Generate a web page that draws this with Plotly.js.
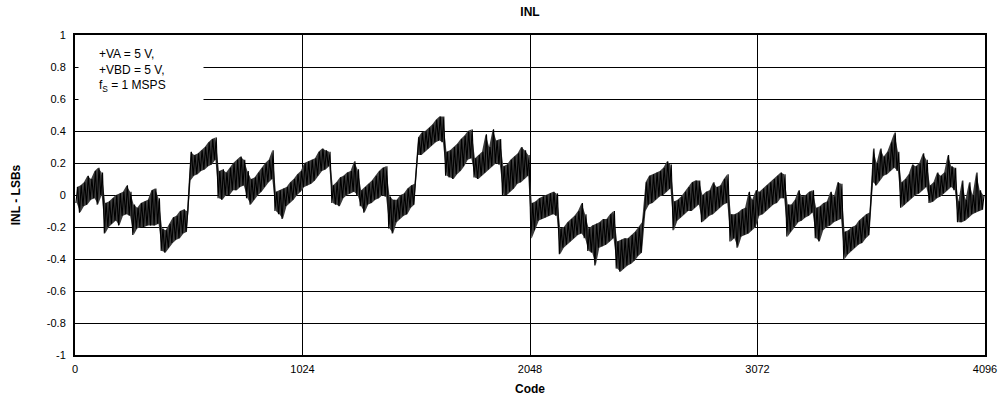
<!DOCTYPE html>
<html><head><meta charset="utf-8">
<script src="https://cdn.plot.ly/plotly-3.0.1.min.js"></script>
<style>html,body{margin:0;padding:0;background:#fff}#chart{width:1000px;height:403px}</style>
</head><body><div id="chart"></div>
<script>
const binWidth = 16;
const inlLo = [
 -0.05,-0.11,-0.07,-0.06,-0.03,-0.02,-0.06,0.00,
 -0.24,-0.20,-0.18,-0.16,-0.19,-0.13,-0.12,-0.13,
 -0.25,-0.21,-0.20,-0.20,-0.19,-0.19,-0.19,-0.18,
 -0.35,-0.36,-0.33,-0.30,-0.28,-0.27,-0.24,-0.23,
 0.09,0.12,0.13,0.15,0.16,0.18,0.19,0.22,
 -0.02,-0.03,0.00,0.00,0.03,0.03,0.05,0.06,
 -0.02,-0.06,-0.03,0.00,0.02,0.05,0.08,0.10,
 -0.10,-0.12,-0.15,-0.07,-0.05,-0.03,0.00,0.02,
 0.05,0.06,0.07,0.09,0.12,0.15,0.16,0.18,
 -0.05,-0.06,-0.07,-0.02,0.00,0.01,0.02,0.00,
 -0.07,-0.11,-0.06,-0.05,-0.03,-0.02,0.00,-0.01,
 -0.21,-0.24,-0.17,-0.15,-0.13,-0.12,-0.08,-0.06,
 0.25,0.25,0.27,0.29,0.31,0.33,0.34,0.33,
 0.12,0.11,0.10,0.13,0.15,0.18,0.22,0.23,
 0.11,0.10,0.12,0.14,0.16,0.18,0.20,0.19,
 0.00,0.00,0.02,0.04,0.07,0.08,0.10,0.12,
 -0.27,-0.22,-0.16,-0.15,-0.14,-0.13,-0.12,-0.13,
 -0.37,-0.33,-0.31,-0.29,-0.27,-0.25,-0.24,-0.27,
 -0.35,-0.36,-0.44,-0.33,-0.32,-0.31,-0.29,-0.27,
 -0.46,-0.48,-0.46,-0.44,-0.43,-0.41,-0.38,-0.36,
 -0.10,-0.06,-0.05,-0.03,-0.01,0.00,0.02,0.04,
 -0.22,-0.16,-0.14,-0.12,-0.10,-0.10,-0.08,-0.06,
 -0.17,-0.15,-0.13,-0.12,-0.10,-0.08,-0.06,-0.05,
 -0.29,-0.27,-0.33,-0.26,-0.25,-0.24,-0.22,-0.20,
 -0.13,-0.12,-0.10,-0.08,-0.06,-0.05,-0.02,-0.02,
 -0.26,-0.23,-0.20,-0.17,-0.16,-0.14,-0.13,-0.11,
 -0.27,-0.29,-0.22,-0.20,-0.19,-0.17,-0.16,-0.15,
 -0.40,-0.37,-0.35,-0.33,-0.31,-0.30,-0.27,-0.25,
 0.08,0.06,0.09,0.12,0.13,0.15,0.17,0.15,
 -0.08,-0.06,-0.04,-0.02,0.00,0.01,0.03,0.05,
 -0.05,-0.04,-0.02,-0.01,0.01,0.03,0.05,0.03,
 -0.17,-0.17,-0.16,-0.14,-0.12,-0.11,-0.10,-0.09
];
const inlHi = [
 0.05,0.06,0.08,0.12,0.10,0.15,0.17,0.14,
 -0.05,-0.04,-0.02,0.00,0.01,0.02,0.06,0.02,
 -0.06,-0.08,-0.05,-0.04,-0.03,0.03,0.04,-0.02,
 -0.21,-0.22,-0.18,-0.14,-0.13,-0.10,-0.09,-0.10,
 0.27,0.25,0.26,0.28,0.30,0.33,0.35,0.36,
 0.15,0.16,0.14,0.17,0.20,0.22,0.24,0.22,
 0.15,0.10,0.11,0.14,0.17,0.20,0.22,0.28,
 0.02,0.03,0.04,0.05,0.08,0.10,0.13,0.15,
 0.20,0.21,0.22,0.23,0.27,0.29,0.28,0.27,
 0.06,0.08,0.11,0.12,0.14,0.15,0.21,0.16,
 0.03,0.05,0.07,0.09,0.12,0.15,0.17,0.18,
 -0.01,-0.03,-0.03,0.00,0.01,0.04,0.06,0.07,
 0.36,0.39,0.40,0.42,0.44,0.47,0.49,0.49,
 0.27,0.28,0.30,0.32,0.35,0.37,0.40,0.41,
 0.23,0.25,0.27,0.38,0.30,0.41,0.34,0.35,
 0.18,0.19,0.22,0.24,0.26,0.30,0.28,0.25,
 -0.05,-0.04,-0.02,-0.01,0.00,0.01,0.02,0.01,
 -0.21,-0.20,-0.17,-0.15,-0.13,-0.10,-0.05,-0.12,
 -0.21,-0.19,-0.18,-0.17,-0.15,-0.15,-0.12,-0.10,
 -0.29,-0.28,-0.27,-0.27,-0.25,-0.23,-0.20,-0.17,
 0.08,0.12,0.13,0.14,0.15,0.17,0.21,0.19,
 -0.04,-0.03,-0.01,0.02,0.05,0.08,0.09,0.09,
 0.00,0.02,0.03,0.08,0.05,0.06,0.10,0.13,
 -0.12,-0.12,-0.11,-0.09,-0.08,0.02,-0.03,0.03,
 0.02,0.04,0.06,0.08,0.10,0.12,0.14,0.13,
 -0.06,-0.06,-0.03,0.03,-0.01,0.00,0.02,0.03,
 -0.08,-0.07,-0.05,-0.04,0.02,-0.01,0.08,0.07,
 -0.23,-0.22,-0.20,-0.19,-0.16,-0.14,-0.12,-0.11,
 0.29,0.20,0.29,0.24,0.27,0.33,0.39,0.27,
 0.08,0.10,0.13,0.19,0.18,0.20,0.26,0.22,
 0.06,0.08,0.14,0.12,0.14,0.25,0.18,0.17,
 -0.04,0.09,-0.03,0.08,0.00,0.14,0.03,0.00
];
const xTickVals = [0, 1024, 2048, 3072, 4096];
const yTickVals = [-1, -0.8, -0.6, -0.4, -0.2, 0, 0.2, 0.4, 0.6, 0.8, 1];
const yTickText = ['-1', '-0.8', '-0.6', '-0.4', '-0.2', '0', '0.2', '0.4', '0.6', '0.8', '1'];
const noteLines = ['+VA = 5 V,', '+VBD = 5 V,', 'f<sub>S</sub> = 1 MSPS'];

// zig-zag through each bin's low and high value
const xs = [], ys = [];
for (let i = 0; i < inlLo.length; i++) {
  xs.push(i * binWidth + 4, i * binWidth + 12);
  ys.push(inlLo[i], inlHi[i]);
}
// envelope band (same values) at bin centres
const xc = inlLo.map((_, i) => i * binWidth + binWidth / 2);

const FONT = 'Liberation Sans, Arial, sans-serif';
const traces = [
  {x: xc, y: inlLo, type: 'scatter', mode: 'lines', line: {width: 0, color: 'rgba(0,0,0,0)'},
   hoverinfo: 'skip', showlegend: false},
  {x: xc, y: inlHi, type: 'scatter', mode: 'lines', line: {width: 0, color: 'rgba(0,0,0,0)'},
   fill: 'tonexty', fillcolor: '#3c3c3c', hoverinfo: 'skip', showlegend: false},
  {x: xs, y: ys, type: 'scatter', mode: 'lines',
   line: {color: '#000', width: 1.1}, hoverinfo: 'skip', showlegend: false}
];
const layout = {
  width: 1000, height: 403,
  margin: {l: 75, r: 15, t: 35, b: 48},
  paper_bgcolor: '#fff', plot_bgcolor: '#fff',
  font: {family: FONT, size: 11, color: '#000'},
  title: {text: '<b>INL</b>', x: 0.53, xref: 'container', y: 1 - 12/403, yref: 'container', yanchor: 'middle',
          font: {family: FONT, size: 12, color: '#000'}},
  xaxis: {
    range: [0, 4096], tickvals: xTickVals, ticktext: xTickVals.map(String),
    showgrid: true, gridcolor: '#000', gridwidth: 1, zeroline: false,
    showline: true, mirror: true, linecolor: '#000', linewidth: 2,
    ticks: '', ticklabelstandoff: 3, tickfont: {family: FONT, size: 11, color: '#000'},
    title: {text: '<b>Code</b>', font: {family: FONT, size: 12, color: '#000'}, standoff: 10}
  },
  yaxis: {
    range: [-1, 1], tickvals: yTickVals, ticktext: yTickText,
    showgrid: true, gridcolor: '#000', gridwidth: 1, zeroline: false,
    showline: true, mirror: true, linecolor: '#000', linewidth: 2,
    ticks: '', ticklabelstandoff: 5, tickfont: {family: FONT, size: 11, color: '#000'},
    title: {text: '<b>INL - LSBs</b>', font: {family: FONT, size: 12, color: '#000'}, standoff: 24}
  },
  annotations: [
    {xref: 'paper', yref: 'paper', x: 0.003, y: 0.982, xanchor: 'left', yanchor: 'top',
     text: ' ', showarrow: false, bgcolor: '#fff', width: 124, height: 62, borderpad: 0},
    {xref: 'paper', yref: 'paper', x: (97 - 75) / 910, y: 0.968, xanchor: 'left', yanchor: 'top',
     text: noteLines.join('<br>'), align: 'left', showarrow: false,
     font: {family: FONT, size: 12, color: '#000'}}
  ]
};
Plotly.newPlot('chart', traces, layout, {displayModeBar: false, staticPlot: true});
</script>
</body></html>
